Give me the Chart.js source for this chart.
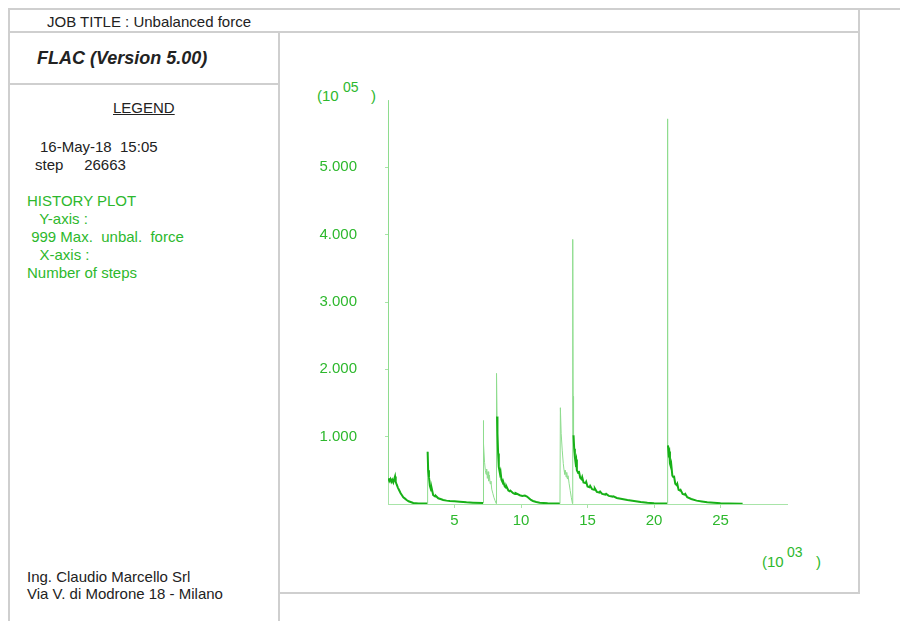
<!DOCTYPE html>
<html>
<head>
<meta charset="utf-8">
<script src="https://cdn.jsdelivr.net/npm/chart.js@4.4.1/dist/chart.umd.min.js"></script>
<style>
  html, body { margin:0; padding:0; background:#fff; }
  body { width:900px; height:621px; position:relative; overflow:hidden;
         font-family:"Liberation Sans", Arial, sans-serif; }
  .ln { position:absolute; background:#cfcfcf; }
  .t { position:absolute; white-space:pre; font-size:15px; line-height:17px; color:#222; }
  .g { color:#2db82d; }
  #c { position:absolute; left:300px; top:60px; }
</style>
</head>
<body>
<!-- frame -->
<div class="ln" style="left:9px;top:8px;width:891px;height:2px"></div>
<div class="ln" style="left:8px;top:8px;width:2px;height:613px"></div>
<div class="ln" style="left:9px;top:31px;width:851px;height:2px"></div>
<div class="ln" style="left:858px;top:8px;width:2px;height:586px"></div>
<div class="ln" style="left:278px;top:31px;width:2px;height:590px"></div>
<div class="ln" style="left:9px;top:83px;width:270px;height:2px"></div>
<div class="ln" style="left:279px;top:592px;width:580px;height:2px"></div>

<!-- left panel texts -->
<div class="t" style="left:47px;top:13px">JOB TITLE : Unbalanced force</div>
<div class="t" style="left:37px;top:48px;font-size:18px;line-height:20px;font-weight:bold;font-style:italic">FLAC (Version 5.00)</div>
<div class="t" style="left:113px;top:99px;text-decoration:underline">LEGEND</div>
<div class="t" style="left:40px;top:138px">16-May-18  15:05</div>
<div class="t" style="left:35px;top:156px">step     26663</div>
<div class="t g" style="left:27px;top:192px">HISTORY PLOT</div>
<div class="t g" style="left:27px;top:210px">   Y-axis :</div>
<div class="t g" style="left:27px;top:228px"> 999 Max.  unbal.  force</div>
<div class="t g" style="left:27px;top:246px">   X-axis :</div>
<div class="t g" style="left:27px;top:264px">Number of steps</div>
<div class="t" style="left:27px;top:568px">Ing. Claudio Marcello Srl</div>
<div class="t" style="left:27px;top:585px">Via V. di Modrone 18 - Milano</div>

<!-- axis multipliers -->
<div class="t g" style="left:317px;top:87px">(10</div>
<div class="t g" style="left:343px;top:79px;font-size:14px">05</div>
<div class="t g" style="left:371px;top:87px">)</div>
<div class="t g" style="left:762px;top:553px">(10</div>
<div class="t g" style="left:787px;top:544px;font-size:14px">03</div>
<div class="t g" style="left:816px;top:553px">)</div>

<canvas id="c" width="540" height="500" style="width:540px;height:500px"></canvas>

<script>
// x: number of steps (x 10^3), y: max unbalanced force (x 10^5)
const stepsK = [
  0, 0.03, 0.1, 0.18, 0.25, 0.32, 0.4, 0.47, 0.53, 0.58, 0.65, 0.75, 0.85, 0.95, 1.05, 1.15, 1.28, 1.4, 1.55, 1.7, 1.9, 2.3, 2.97,
  2.98, 3.02, 3.08, 3.15, 3.25, 3.3, 3.4, 3.55, 3.6, 3.78, 4.0, 4.15, 4.4, 4.65, 5.0, 5.4, 5.9, 6.4, 7.15,
  7.16, 7.2, 7.26, 7.32, 7.37, 7.42, 7.47, 7.52, 7.57, 7.62, 7.68, 7.74, 7.8, 7.88, 7.96, 8.05, 8.14,
  8.16, 8.2, 8.23, 8.28, 8.33, 8.42, 8.46, 8.53, 8.62, 8.65, 8.78, 8.88, 8.91, 9.05, 9.15, 9.2, 9.41, 9.55, 9.6, 9.91, 10.1, 10.29, 10.45, 10.6, 10.75, 10.9, 11.15, 11.41, 12.0, 12.93,
  12.96, 13.02, 13.1, 13.18, 13.24, 13.29, 13.34, 13.39, 13.44, 13.49, 13.54, 13.62, 13.7, 13.78, 13.87,
  13.89, 13.92, 13.95, 14.0, 14.05, 14.1, 14.15, 14.2, 14.3, 14.35, 14.45, 14.55, 14.6, 14.7, 14.85, 14.9, 15.0, 15.15, 15.2, 15.35, 15.5, 15.55, 15.7, 15.9, 15.95, 16.1, 16.35, 16.4, 16.6, 16.9, 16.95, 17.2, 17.6, 18.0, 18.5, 19.0, 19.5, 20.0, 20.98,
  21.0, 21.02, 21.03, 21.05, 21.1, 21.15, 21.2, 21.27, 21.3, 21.38, 21.45, 21.5, 21.6, 21.7, 21.75, 21.85, 21.95, 22.0, 22.15, 22.3, 22.35, 22.5, 22.8, 23.2, 23.6, 24.0, 24.5, 25.0, 25.6, 26.663
];
const forceE5 = [
  5.99, 0.38, 0.34, 0.37, 0.33, 0.36, 0.32, 0.37, 0.41, 0.33, 0.29, 0.24, 0.2, 0.16, 0.13, 0.1, 0.08, 0.06, 0.04, 0.03, 0.015, 0.008, 0.006,
  0.775, 0.5, 0.4, 0.27, 0.2, 0.22, 0.13, 0.11, 0.12, 0.085, 0.07, 0.06, 0.05, 0.045, 0.04, 0.035, 0.025, 0.02, 0.015,
  1.24, 0.9, 0.62, 0.5, 0.44, 0.52, 0.38, 0.48, 0.34, 0.43, 0.3, 0.34, 0.22, 0.16, 0.1, 0.05, 0.005,
  1.94, 1.3, 1.05, 0.75, 0.55, 0.45, 0.48, 0.36, 0.32, 0.34, 0.26, 0.24, 0.26, 0.2, 0.19, 0.2, 0.16, 0.15, 0.16, 0.13, 0.12, 0.125, 0.11, 0.085, 0.06, 0.045, 0.03, 0.02, 0.01, 0.006,
  1.43, 1.05, 0.8, 0.6, 0.5, 0.44, 0.5, 0.4, 0.47, 0.37, 0.42, 0.3, 0.2, 0.1, 0.005,
  3.93, 1.6, 1.02, 0.82, 0.7, 0.62, 0.66, 0.5, 0.46, 0.49, 0.39, 0.37, 0.4, 0.32, 0.31, 0.33, 0.26, 0.25, 0.27, 0.22, 0.21, 0.23, 0.18, 0.17, 0.185, 0.15, 0.14, 0.15, 0.12, 0.11, 0.115, 0.09, 0.075, 0.06, 0.045, 0.03, 0.018, 0.012, 0.006,
  5.72, 1.95, 1.55, 0.87, 0.75, 0.78, 0.6, 0.55, 0.58, 0.42, 0.4, 0.42, 0.3, 0.28, 0.3, 0.21, 0.2, 0.21, 0.15, 0.14, 0.15, 0.1, 0.075, 0.05, 0.038, 0.025, 0.018, 0.012, 0.008, 0.005
];
// stages (in 10^3 steps) whose rapidly oscillating history renders faint in the plot
const fadedStages = [[7.16, 8.15], [12.96, 13.88]];
const yTickValues = [1, 2, 3, 4, 5];
const xTickValues = [5, 10, 15, 20, 25];

const green = '#2db82d';
const axisGreen = '#a8e4a8';
const darkLine = '#17b017';
const lightLine = '#8edc8e';
const tickFont = { family: '"Liberation Sans", Arial, sans-serif', size: 15 };

function faint(ctx) {
  const x0 = ctx.p0.parsed.x;
  const inStage = fadedStages.some(r => x0 >= r[0] && x0 < r[1]);
  const dx = Math.abs(ctx.p1.x - ctx.p0.x);
  const dy = Math.abs(ctx.p1.y - ctx.p0.y);
  return inStage || (dy > 21 && dy > 3 * dx);
}

new Chart(document.getElementById('c'), {
  type: 'line',
  data: {
    datasets: [{
      data: stepsK.map((x, i) => ({ x: x, y: forceE5[i] })),
      borderColor: darkLine,
      borderWidth: 2,
      pointRadius: 0,
      tension: 0,
      fill: false,
      segment: {
        borderColor: ctx => faint(ctx) ? lightLine : darkLine,
        borderWidth: ctx => faint(ctx) ? 1 : 2
      }
    }]
  },
  options: {
    responsive: false,
    animation: false,
    events: [],
    layout: { padding: { left: 0, top: 40, right: 53, bottom: 0 } },
    plugins: { legend: { display: false }, tooltip: { enabled: false } },
    scales: {
      x: {
        type: 'linear', min: 0, max: 30,
        afterBuildTicks: s => { s.ticks = xTickValues.map(v => ({ value: v })); },
        afterFit: s => { s.height = 56; },
        grid: { drawOnChartArea: false, drawTicks: true, tickLength: 4, color: axisGreen },
        border: { color: axisGreen, width: 1 },
        ticks: { color: green, font: tickFont, padding: 4, maxRotation: 0, autoSkip: false,
                 callback: v => String(v) }
      },
      y: {
        type: 'linear', min: 0, max: 6,
        afterBuildTicks: s => { s.ticks = yTickValues.map(v => ({ value: v })); },
        afterFit: s => { s.width = 88; },
        grid: { drawOnChartArea: false, drawTicks: true, tickLength: 3, color: axisGreen },
        border: { color: axisGreen, width: 1 },
        ticks: { color: green, font: tickFont, padding: 28, autoSkip: false,
                 callback: v => Number(v).toFixed(3) }
      }
    }
  }
});
</script>
</body>
</html>
